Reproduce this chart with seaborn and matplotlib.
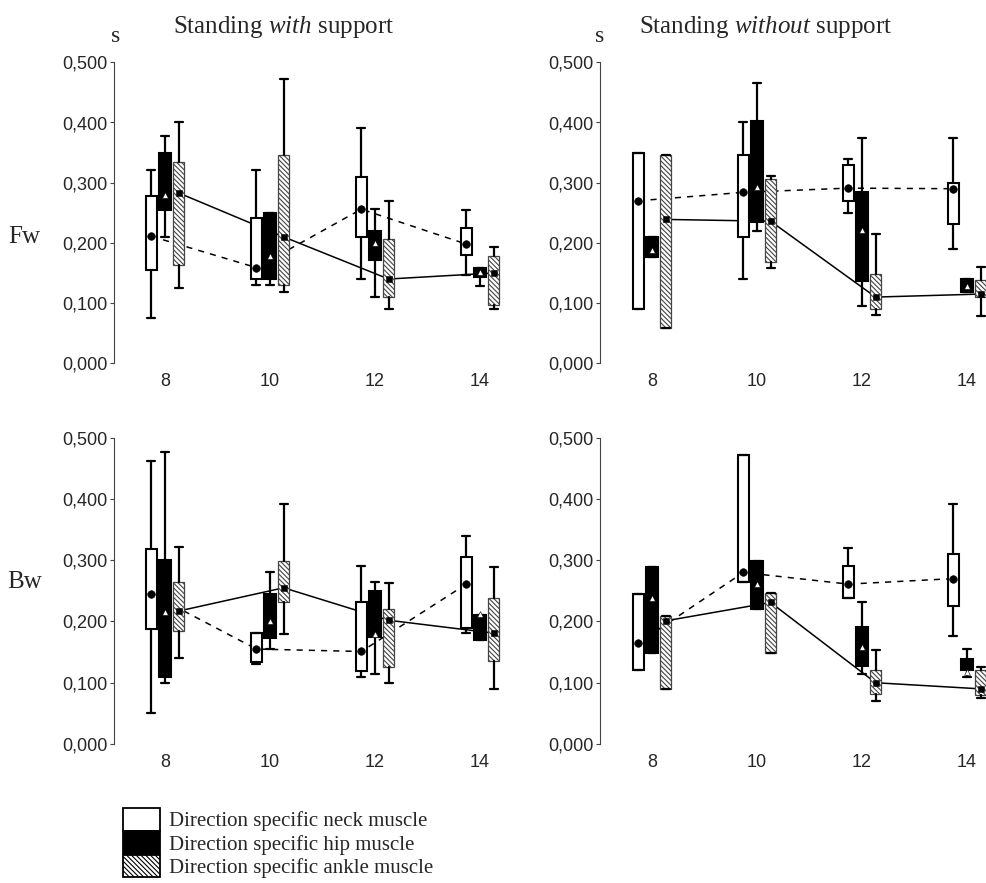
import matplotlib
matplotlib.use("Agg")
import matplotlib.pyplot as plt
import seaborn as sns
from matplotlib.patches import Patch

# ---------------- data ----------------
ages = [8, 10, 12, 14]
muscles = ["neck", "hip", "ankle"]
panel_titles = ["Standing $\\mathit{with}$ support", "Standing $\\mathit{without}$ support"]
row_labels = ["Fw", "Bw"]
ytick_values = [0.0, 0.1, 0.2, 0.3, 0.4, 0.5]
ytick_labels = ["0,000", "0,100", "0,200", "0,300", "0,400", "0,500"]
legend_labels = ["Direction specific neck muscle",
                 "Direction specific hip muscle",
                 "Direction specific ankle muscle"]

# Forward sway, standing with support
fw_with_neck = dict(lo=[0.075, 0.130, 0.140, 0.147], q1=[0.155, 0.140, 0.209, 0.180],
                    med=[0.211, 0.159, 0.256, 0.198], q3=[0.278, 0.241, 0.310, 0.224],
                    hi=[0.321, 0.321, 0.391, 0.255])
fw_with_hip = dict(lo=[0.209, 0.130, 0.110, 0.129], q1=[0.254, 0.140, 0.171, 0.143],
                   med=[0.280, 0.178, 0.200, 0.152], q3=[0.349, 0.250, 0.219, 0.158],
                   hi=[0.378, 0.250, 0.256, 0.158])
fw_with_ankle = dict(lo=[0.125, 0.119, 0.090, 0.090], q1=[0.164, 0.130, 0.110, 0.097],
                     med=[0.283, 0.210, 0.140, 0.150], q3=[0.335, 0.346, 0.206, 0.179],
                     hi=[0.400, 0.472, 0.270, 0.193])
# Forward sway, standing without support
fw_without_neck = dict(lo=[0.090, 0.140, 0.250, 0.190], q1=[0.090, 0.209, 0.270, 0.231],
                       med=[0.270, 0.284, 0.291, 0.290], q3=[0.350, 0.346, 0.330, 0.300],
                       hi=[0.350, 0.400, 0.339, 0.374])
fw_without_hip = dict(lo=[0.176, 0.220, 0.095, 0.118], q1=[0.176, 0.234, 0.137, 0.118],
                      med=[0.189, 0.293, 0.222, 0.129], q3=[0.209, 0.402, 0.284, 0.140],
                      hi=[0.209, 0.465, 0.375, 0.140])
fw_without_ankle = dict(lo=[0.059, 0.159, 0.080, 0.079], q1=[0.059, 0.168, 0.090, 0.110],
                        med=[0.239, 0.236, 0.110, 0.115], q3=[0.346, 0.306, 0.148, 0.138],
                        hi=[0.346, 0.311, 0.214, 0.160])
# Backward sway, standing with support
bw_with_neck = dict(lo=[0.050, 0.130, 0.110, 0.181], q1=[0.187, 0.134, 0.119, 0.190],
                    med=[0.245, 0.155, 0.151, 0.261], q3=[0.318, 0.181, 0.231, 0.305],
                    hi=[0.462, 0.181, 0.290, 0.340])
bw_with_hip = dict(lo=[0.100, 0.155, 0.115, 0.170], q1=[0.110, 0.173, 0.174, 0.170],
                   med=[0.215, 0.201, 0.180, 0.212], q3=[0.300, 0.245, 0.250, 0.210],
                   hi=[0.477, 0.281, 0.265, 0.210])
bw_with_ankle = dict(lo=[0.140, 0.180, 0.100, 0.090], q1=[0.185, 0.231, 0.125, 0.136],
                     med=[0.217, 0.255, 0.202, 0.181], q3=[0.264, 0.299, 0.220, 0.239],
                     hi=[0.321, 0.391, 0.262, 0.289])
# Backward sway, standing without support
bw_without_neck = dict(lo=[0.120, 0.264, 0.239, 0.176], q1=[0.120, 0.264, 0.239, 0.225],
                       med=[0.165, 0.280, 0.261, 0.270], q3=[0.245, 0.472, 0.290, 0.310],
                       hi=[0.245, 0.472, 0.320, 0.391])
bw_without_hip = dict(lo=[0.149, 0.220, 0.114, 0.110], q1=[0.149, 0.220, 0.127, 0.120],
                      med=[0.239, 0.261, 0.158, 0.117], q3=[0.289, 0.299, 0.191, 0.139],
                      hi=[0.289, 0.299, 0.231, 0.155])
bw_without_ankle = dict(lo=[0.089, 0.149, 0.071, 0.075], q1=[0.089, 0.149, 0.081, 0.080],
                        med=[0.201, 0.231, 0.100, 0.090], q3=[0.209, 0.246, 0.120, 0.120],
                        hi=[0.209, 0.246, 0.153, 0.125])

panels = [
    [dict(neck=fw_with_neck, hip=fw_with_hip, ankle=fw_with_ankle),
     dict(neck=fw_without_neck, hip=fw_without_hip, ankle=fw_without_ankle)],
    [dict(neck=bw_with_neck, hip=bw_with_hip, ankle=bw_with_ankle),
     dict(neck=bw_without_neck, hip=bw_without_hip, ankle=bw_without_ankle)],
]

# ---------------- style ----------------
sns.set_style("white")
plt.rcParams['font.family'] = ['Liberation Sans', 'DejaVu Sans']
plt.rcParams['mathtext.fontset'] = 'custom'
plt.rcParams['mathtext.rm'] = 'Liberation Serif'
plt.rcParams['mathtext.it'] = 'Liberation Serif:italic'
plt.rcParams['hatch.linewidth'] = 0.8
SERIF = ['Liberation Serif', 'DejaVu Serif']
HATCH = '\\' * 7

W, H = 986, 883
fig = plt.figure(figsize=(W / 100, H / 100), dpi=100)


def fx(x):
    return x / W


def fy(y):
    return 1 - y / H


offsets = {"neck": -0.26, "hip": 0.0, "ankle": 0.26}
box_w = 0.22
box_style = {
    "neck": dict(facecolor="white", edgecolor="black", linewidth=1.5),
    "hip": dict(facecolor="black", edgecolor="black", linewidth=1.5),
    "ankle": dict(facecolor="white", edgecolor="#444444", linewidth=0.9, hatch=HATCH),
}

# axes pixel geometry: (left, right, top, bottom, xmin)
geom = [
    [(114, 505, 62.3, 363.3, 7.029), (600, 986, 62.3, 363.3, 7.01)],
    [(114, 505, 437.7, 744.0, 7.029), (600, 986, 437.7, 744.0, 7.01)],
]
px_per_unit = 52.5

for r in range(2):
    for c in range(2):
        left, right, top, bottom, xmin = geom[r][c]
        ax = fig.add_axes([fx(left), fy(bottom), (right - left) / W, (bottom - top) / H])
        data = panels[r][c]
        for m in muscles:
            d = data[m]
            stats = [dict(whislo=d["lo"][i], q1=d["q1"][i], med=d["med"][i],
                          q3=d["q3"][i], whishi=d["hi"][i]) for i in range(len(ages))]
            pos = [a + offsets[m] for a in ages]
            ax.bxp(stats, positions=pos, widths=box_w, capwidths=0.15, patch_artist=True,
                   showfliers=False, manage_ticks=False,
                   boxprops=box_style[m],
                   whiskerprops=dict(color="black", linewidth=1.6),
                   capprops=dict(color="black", linewidth=1.6),
                   medianprops=dict(linewidth=0), zorder=2)
        # median connecting lines (behind boxes)
        sns.lineplot(x=[a + offsets["neck"] for a in ages], y=data["neck"]["med"], ax=ax,
                     color="black", linewidth=1.1, linestyle=(0, (4, 4)), errorbar=None,
                     zorder=1)
        sns.lineplot(x=[a + offsets["ankle"] for a in ages], y=data["ankle"]["med"], ax=ax,
                     color="black", linewidth=1.1, errorbar=None, zorder=1)
        # median markers
        sns.scatterplot(x=[a + offsets["neck"] for a in ages], y=data["neck"]["med"], ax=ax,
                        marker="o", s=30, color="black", edgecolor="black", zorder=4)
        sns.scatterplot(x=[a + offsets["hip"] for a in ages], y=data["hip"]["med"], ax=ax,
                        marker="^", s=18, color="white", edgecolor="black", linewidth=0.4,
                        zorder=4)
        sns.scatterplot(x=[a + offsets["ankle"] for a in ages], y=data["ankle"]["med"], ax=ax,
                        marker="s", s=22, color="black", edgecolor="black", zorder=4)

        ax.set_xlim(xmin, xmin + (right - left) / px_per_unit)
        ax.set_ylim(0, 0.5)
        ax.set_xticks(ages)
        ax.set_xticklabels([str(a) for a in ages])
        ax.set_yticks(ytick_values)
        ax.set_yticklabels(ytick_labels)
        ax.set_xlabel("")
        ax.set_ylabel("")
        for s in ["top", "right", "bottom"]:
            ax.spines[s].set_visible(False)
        ax.spines["left"].set_color("#444444")
        ax.spines["left"].set_linewidth(0.8)
        ax.tick_params(axis="y", direction="out", length=3, width=0.8, color="#444444",
                       pad=1.5, labelsize=13, left=True)
        ax.tick_params(axis="x", length=0, pad=7, labelsize=13)
        ax.set_facecolor("none")

# titles, unit labels, row labels
fig.text(fx(284), fy(33), panel_titles[0], family=SERIF, fontsize=18, ha="center", va="baseline")
fig.text(fx(766), fy(33), panel_titles[1], family=SERIF, fontsize=18, ha="center", va="baseline")
fig.text(fx(116), fy(42.5), "s", family=SERIF, fontsize=17, ha="center", va="baseline")
fig.text(fx(600), fy(42.5), "s", family=SERIF, fontsize=17, ha="center", va="baseline")
fig.text(fx(24), fy(242.5), row_labels[0], family=SERIF, fontsize=18, ha="center", va="baseline")
fig.text(fx(25), fy(588), row_labels[1], family=SERIF, fontsize=18, ha="center", va="baseline")

# legend
handles = [Patch(facecolor="white", edgecolor="black", linewidth=1.3),
           Patch(facecolor="black", edgecolor="black", linewidth=1.3),
           Patch(facecolor="white", edgecolor="black", linewidth=1.3, hatch=HATCH)]
fig.legend(handles=handles, labels=legend_labels, loc="upper left",
           bbox_to_anchor=(fx(123), fy(808)), bbox_transform=fig.transFigure,
           frameon=False, borderpad=0, borderaxespad=0, labelspacing=0,
           handlelength=1.78, handleheight=1.3, handletextpad=0.45,
           prop=dict(family=SERIF, size=15))

fig.savefig("out.png", dpi=100)
